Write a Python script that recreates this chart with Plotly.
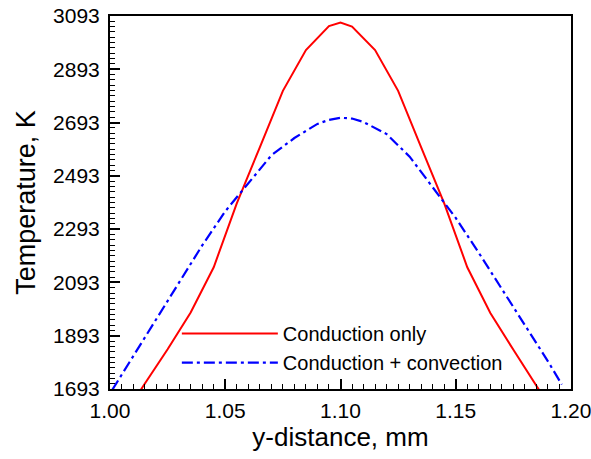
import plotly.graph_objects as go

# Data
x_cond = [1.005, 1.015, 1.025, 1.035, 1.045, 1.055, 1.065, 1.075, 1.085, 1.095, 1.100,
          1.105, 1.115, 1.125, 1.135, 1.145, 1.155, 1.165, 1.175, 1.185, 1.195]
t_cond = [1576, 1712, 1842, 1980, 2150, 2390, 2600, 2812, 2965, 3055, 3068,
          3053, 2965, 2812, 2600, 2390, 2150, 1978, 1840, 1700, 1570]

x_conv = [1.001, 1.010, 1.020, 1.030, 1.040, 1.050, 1.060, 1.070, 1.080, 1.090, 1.095,
          1.100, 1.105, 1.110, 1.120, 1.130, 1.140, 1.150, 1.160, 1.170, 1.180, 1.190, 1.196]
t_conv = [1690, 1815, 1956, 2097, 2232, 2360, 2465, 2570, 2635, 2688, 2703,
          2711, 2708, 2695, 2650, 2565, 2450, 2335, 2204, 2068, 1933, 1797, 1710]

y_ticks = [1693, 1893, 2093, 2293, 2493, 2693, 2893, 3093]
x_ticks = [1.00, 1.05, 1.10, 1.15, 1.20]
x_tick_labels = ["1.00", "1.05", "1.10", "1.15", "1.20"]

series_names = ["Conduction only", "Conduction + convection"]

FONT = "Arial, Liberation Sans, sans-serif"

fig = go.Figure()
fig.add_trace(go.Scatter(x=x_cond, y=t_cond, mode="lines", name=series_names[0],
                         line=dict(color="#ff0000", width=2)))
fig.add_trace(go.Scatter(x=x_conv, y=t_conv, mode="lines", name=series_names[1],
                         line=dict(color="#0000ff", width=2.2, dash="11px,4px,3px,4px")))

fig.update_layout(
    width=591, height=459,
    margin=dict(l=110, r=20, t=16, b=70, autoexpand=False),
    paper_bgcolor="white", plot_bgcolor="white",
    font=dict(family=FONT, color="black"),
    showlegend=True,
    legend=dict(x=0.145, y=0.201, xanchor="left", yanchor="top",
                bgcolor="rgba(0,0,0,0)", font=dict(size=20, family=FONT),
                itemwidth=96, tracegroupgap=0),
)

fig.update_xaxes(
    range=[1.0, 1.2], tickvals=x_ticks, ticktext=x_tick_labels,
    ticks="inside", ticklen=10, tickwidth=2, tickcolor="black",
    minor=dict(dtick=0.005, ticks="inside", ticklen=5, tickwidth=1, tickcolor="black"),
    showline=True, linewidth=2, linecolor="black", mirror=True,
    showgrid=False, zeroline=False, automargin=False,
    tickfont=dict(size=21, family=FONT),
    ticklabelstandoff=2, ticklabeloverflow="allow",
    title=dict(text="y-distance, mm", font=dict(size=26, family=FONT), standoff=7),
)
fig.update_yaxes(
    range=[1693, 3093], tickvals=y_ticks,
    ticks="inside", ticklen=10, tickwidth=2, tickcolor="black",
    minor=dict(dtick=20, tick0=1693, ticks="inside", ticklen=5, tickwidth=1, tickcolor="black"),
    showline=True, linewidth=2, linecolor="black", mirror=True,
    showgrid=False, zeroline=False, automargin=False,
    tickfont=dict(size=21, family=FONT),
    ticklabelstandoff=4,
    title=dict(text="Temperature, K", font=dict(size=27, family=FONT), standoff=10),
)

fig.write_html("out.html")
